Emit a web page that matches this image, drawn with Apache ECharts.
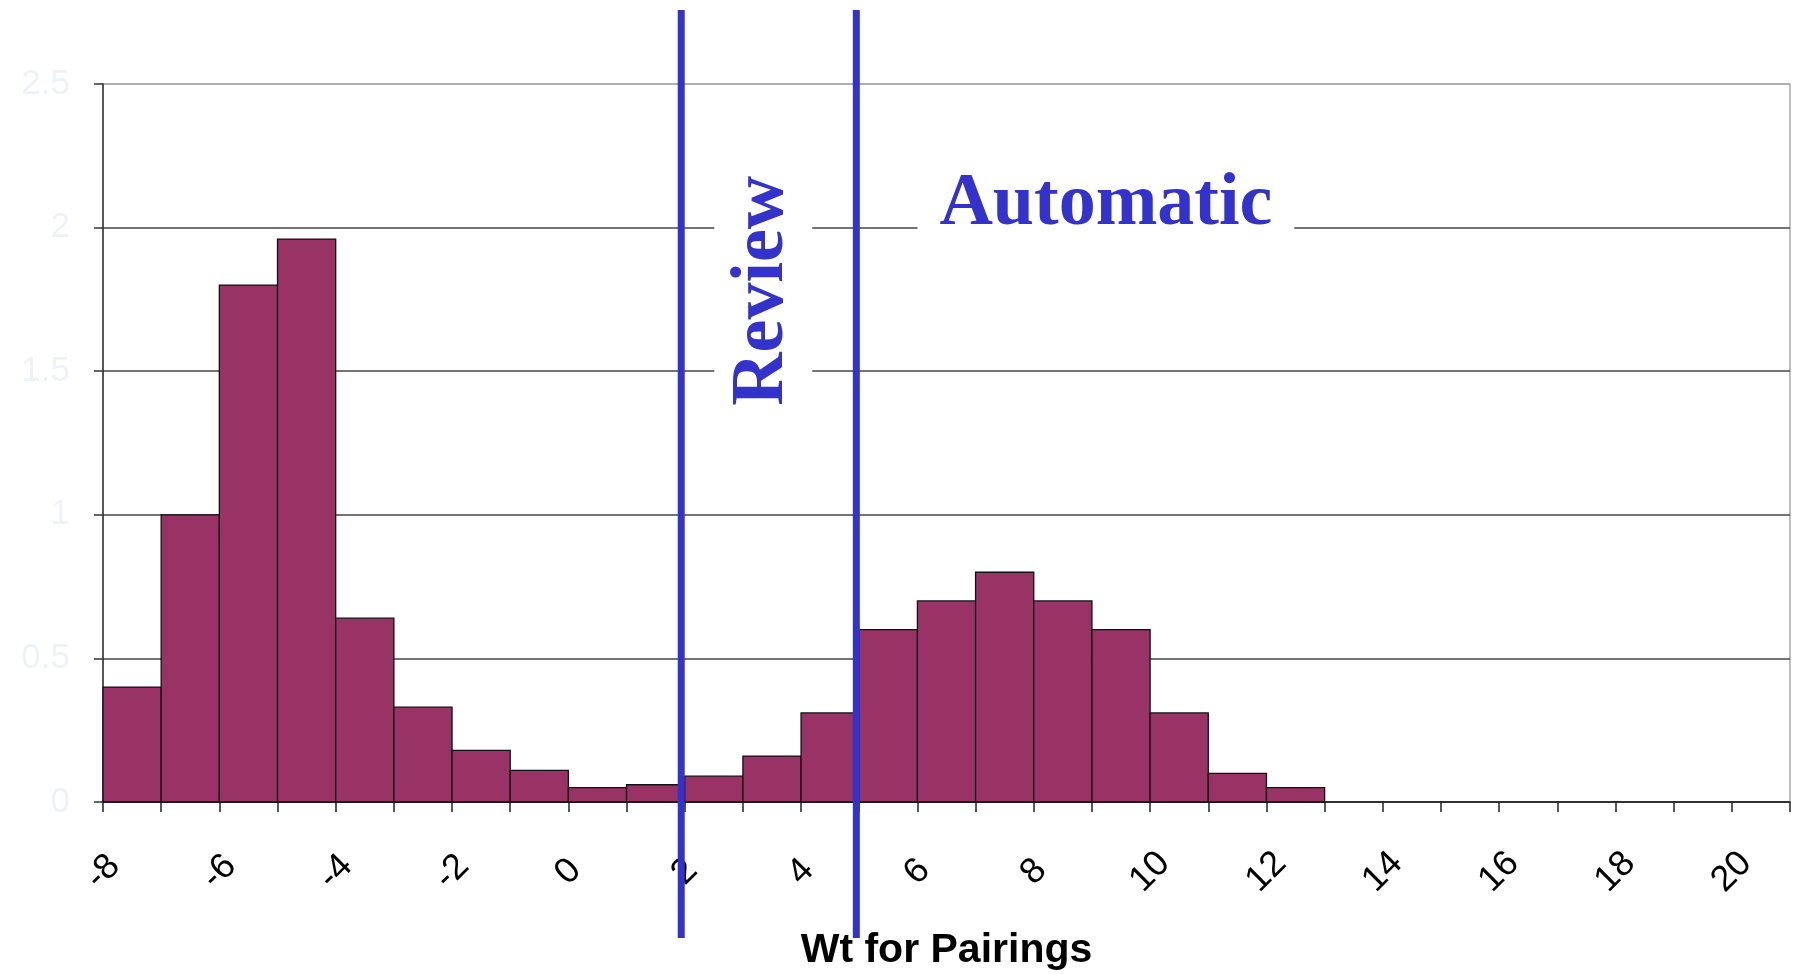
<!DOCTYPE html>
<html>
<head>
<meta charset="utf-8">
<script src="https://cdn.jsdelivr.net/npm/echarts@6/dist/echarts.min.js"></script>
<style>
  html, body { margin: 0; padding: 0; background: #ffffff; }
  #chart { width: 1799px; height: 974px; }
</style>
</head>
<body>
<div id="chart"></div>
<script>
// ---- data ----
const binStarts = [-8, -7, -6, -5, -4, -3, -2, -1, 0, 1, 2, 3, 4, 5, 6, 7, 8, 9, 10, 11, 12, 13, 14, 15, 16, 17, 18, 19, 20];
const frequencies = [0.4, 1.0, 1.8, 1.96, 0.64, 0.33, 0.18, 0.11, 0.05, 0.06, 0.09, 0.16, 0.31, 0.6, 0.7, 0.8, 0.7, 0.6, 0.31, 0.1, 0.05, 0, 0, 0, 0, 0, 0, 0, 0];
const xTickLabels = ['-8', '-6', '-4', '-2', '0', '2', '4', '6', '8', '10', '12', '14', '16', '18', '20'];
const yTickLabels = ['0', '0.5', '1', '1.5', '2', '2.5'];
const thresholds = [1.94, 4.95];
const xTitle = 'Wt for Pairings';
const reviewText = 'Review';
const reviewPos = [3.35, 1.78];
const automaticText = 'Automatic';
const automaticPos = [9.24, 2.08];

const chart = echarts.init(document.getElementById('chart'), null, { renderer: 'canvas' });

const histData = binStarts.map((b, i) => [b, frequencies[i]]);

const option = {
  animation: false,
  backgroundColor: '#ffffff',
  grid: {
    left: 103, right: 9, top: 84, bottom: 172,
    containLabel: false,
    outerBoundsMode: 'none',
    show: true, borderColor: '#aaaaaa', borderWidth: 1.5, backgroundColor: 'transparent'
  },
  xAxis: {
    type: 'value',
    min: -8, max: 21, interval: 1,
    name: xTitle,
    nameLocation: 'middle',
    nameGap: 128,
    nameTextStyle: { fontFamily: 'Liberation Sans', fontWeight: 'bold', fontSize: 41, color: '#000' },
    axisLine: { show: true, onZero: false, lineStyle: { color: '#222', width: 1.5 } },
    axisTick: { show: true, inside: false, length: 10, lineStyle: { color: '#222', width: 1.5 } },
    splitLine: { show: false },
    axisLabel: {
      rotate: 45,
      align: 'center',
      verticalAlign: 'middle',
      margin: 70,
      fontFamily: 'Liberation Sans',
      fontSize: 36,
      color: '#000',
      showMinLabel: true,
      showMaxLabel: true,
      formatter: function (v) {
        const s = String(v);
        return xTickLabels.indexOf(s) >= 0 ? s : '';
      }
    }
  },
  yAxis: {
    type: 'value',
    min: 0, max: 2.5, interval: 0.5,
    axisLine: { show: true, onZero: false, lineStyle: { color: '#333', width: 1.5 } },
    axisTick: { show: true, inside: false, length: 9, lineStyle: { color: '#333', width: 1.5 } },
    splitLine: { show: true, lineStyle: { color: ['#444', '#444', '#444', '#444', '#444', '#aaaaaa'], width: 1.5 } },
    axisLabel: {
      margin: 33,
      fontFamily: 'Liberation Sans',
      fontSize: 35,
      color: '#eef2f8',
      formatter: function (v) {
        const s = String(v);
        return yTickLabels.indexOf(s) >= 0 ? s : '';
      }
    }
  },
  series: [{
    type: 'custom',
    data: histData,
    encode: { x: 0, y: 1 },
    renderItem: function (params, api) {
      const x0 = api.value(0);
      const v = api.value(1);
      if (!v) return null;
      const pBase = api.coord([x0, 0]);
      const pTop = api.coord([x0 + 1, v]);
      return {
        type: 'rect',
        shape: { x: pBase[0], y: pTop[1], width: pTop[0] - pBase[0], height: pBase[1] - pTop[1] },
        style: { fill: '#993366', stroke: '#111', lineWidth: 1.3 }
      };
    },
    z: 3
  }]
};

chart.setOption(option);

const toPx = (pt) => chart.convertToPixel({ xAxisIndex: 0, yAxisIndex: 0 }, pt);
const graphics = [];
thresholds.forEach((t) => {
  const px = chart.convertToPixel({ xAxisIndex: 0 }, t);
  graphics.push({
    type: 'line', z: 100,
    shape: { x1: px, y1: 10, x2: px, y2: 938 },
    style: { stroke: '#3333cc', lineWidth: 7 }
  });
});
const rp = toPx(reviewPos);
graphics.push({
  type: 'text', z: 90,
  x: rp[0], y: rp[1], rotation: Math.PI / 2,
  style: {
    text: reviewText, fontFamily: 'Liberation Serif', fontWeight: 'bold', fontSize: 74,
    fill: '#3333cc', align: 'center', verticalAlign: 'middle',
    backgroundColor: '#ffffff', padding: [12, 14]
  }
});
const ap = toPx(automaticPos);
graphics.push({
  type: 'text', z: 90,
  x: ap[0], y: ap[1],
  style: {
    text: automaticText, fontFamily: 'Liberation Serif', fontWeight: 'bold', fontSize: 74,
    fill: '#3333cc', align: 'center', verticalAlign: 'middle',
    backgroundColor: '#ffffff', padding: [6, 22]
  }
});
chart.setOption({ graphic: graphics });
</script>
</body>
</html>
